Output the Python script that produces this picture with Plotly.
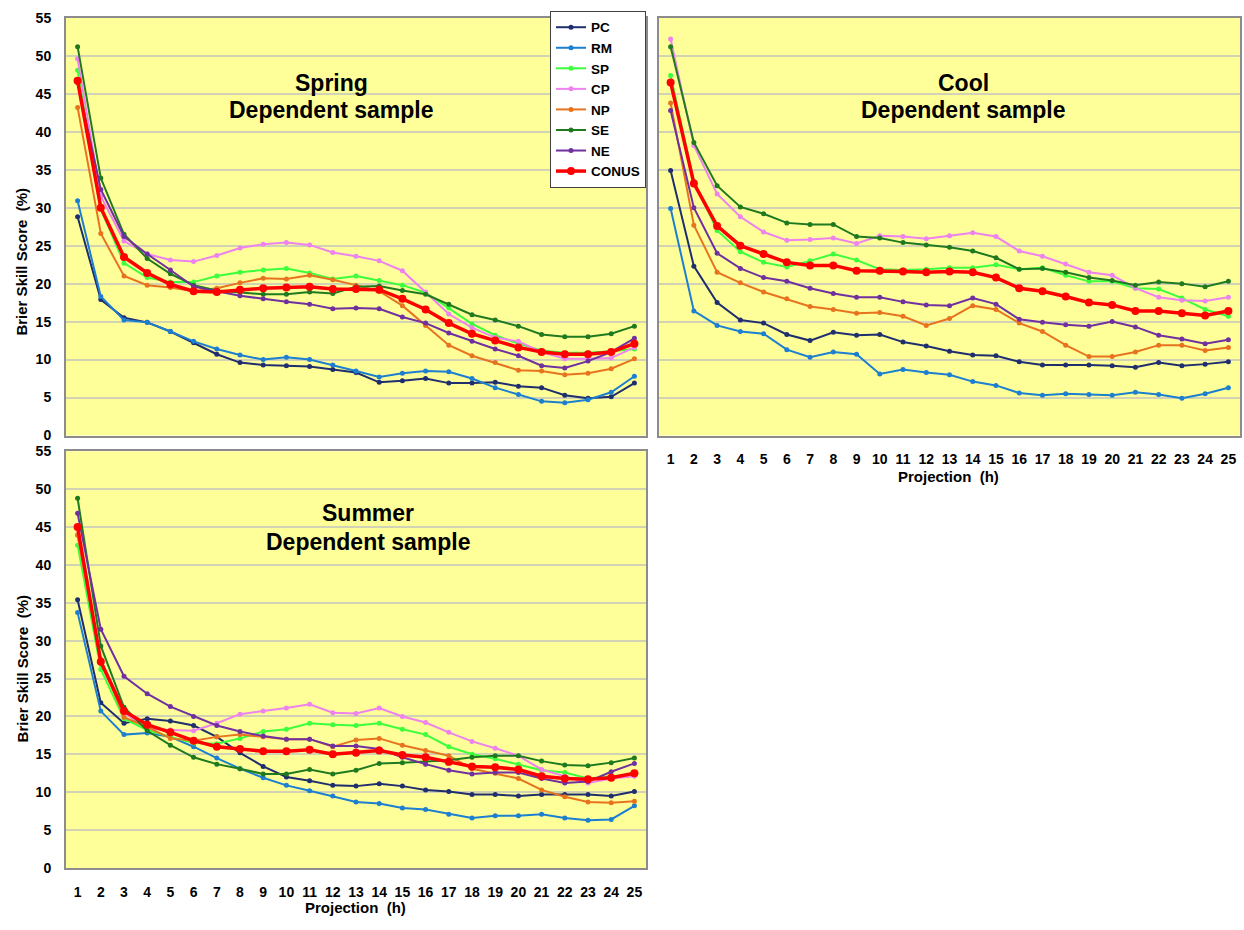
import plotly.graph_objects as go

W, H = 1244, 930
hours = list(range(1, 26))
series_names = ["PC", "RM", "SP", "CP", "NP", "SE", "NE", "CONUS"]
colors = {"PC": "#1F2E6E", "RM": "#1C7FD0", "SP": "#3CFF3C", "CP": "#EE82EE",
          "NP": "#E8731E", "SE": "#1F7A1F", "NE": "#7030A0", "CONUS": "#FF0000"}

spring = {
    "PC":    [28.8, 17.9, 15.5, 14.9, 13.7, 12.2, 10.7, 9.6, 9.3, 9.2, 9.1, 8.7, 8.3, 7.0, 7.2, 7.5, 6.9, 6.9, 7.0, 6.5, 6.3, 5.3, 4.9, 5.1, 6.9],
    "RM":    [30.9, 18.3, 15.2, 14.9, 13.7, 12.4, 11.4, 10.6, 10.0, 10.3, 10.0, 9.3, 8.5, 7.7, 8.2, 8.5, 8.4, 7.5, 6.3, 5.4, 4.5, 4.3, 4.7, 5.7, 7.8],
    "SP":    [48.1, 29.8, 22.7, 20.8, 20.2, 20.2, 21.0, 21.5, 21.8, 22.0, 21.4, 20.6, 21.0, 20.4, 19.8, 18.8, 16.8, 14.7, 13.2, 12.1, 11.2, 10.9, 10.9, 11.1, 11.4],
    "CP":    [49.6, 31.5, 25.6, 23.9, 23.1, 22.9, 23.7, 24.7, 25.2, 25.4, 25.1, 24.1, 23.6, 23.0, 21.7, 18.9, 16.0, 14.2, 12.9, 12.4, 11.0, 10.1, 10.1, 10.2, 11.6],
    "NP":    [43.2, 26.6, 21.0, 19.8, 19.5, 19.0, 19.4, 20.1, 20.7, 20.6, 21.1, 20.5, 19.8, 19.0, 17.1, 14.5, 11.9, 10.5, 9.6, 8.6, 8.5, 8.0, 8.2, 8.8, 10.1],
    "SE":    [51.2, 33.9, 26.5, 23.3, 21.3, 19.8, 19.1, 18.9, 18.6, 18.6, 18.9, 18.7, 19.6, 19.7, 19.1, 18.6, 17.3, 15.9, 15.2, 14.4, 13.3, 13.0, 13.0, 13.4, 14.4],
    "NE":    [46.5, 32.4, 26.2, 23.9, 21.8, 19.6, 19.0, 18.4, 18.0, 17.6, 17.3, 16.7, 16.8, 16.7, 15.6, 14.8, 13.5, 12.4, 11.4, 10.5, 9.2, 8.9, 9.8, 11.0, 12.8],
    "CONUS": [46.7, 30.0, 23.5, 21.4, 19.9, 19.0, 18.9, 19.2, 19.4, 19.5, 19.6, 19.3, 19.3, 19.2, 18.0, 16.6, 14.8, 13.4, 12.5, 11.6, 11.0, 10.7, 10.7, 11.0, 12.1],
}

cool = {
    "PC":    [34.9, 22.3, 17.5, 15.2, 14.8, 13.3, 12.5, 13.6, 13.2, 13.3, 12.3, 11.8, 11.1, 10.6, 10.5, 9.7, 9.3, 9.3, 9.3, 9.2, 9.0, 9.6, 9.2, 9.4, 9.7],
    "RM":    [29.9, 16.4, 14.5, 13.7, 13.4, 11.3, 10.3, 11.0, 10.7, 8.1, 8.7, 8.3, 8.0, 7.1, 6.6, 5.6, 5.3, 5.5, 5.4, 5.3, 5.7, 5.4, 4.9, 5.5, 6.3],
    "SP":    [47.4, 33.5, 27.0, 24.2, 22.8, 22.2, 23.0, 23.9, 23.1, 21.9, 21.8, 21.9, 22.1, 22.1, 22.5, 21.9, 22.1, 21.1, 20.3, 20.3, 19.4, 19.3, 18.1, 16.6, 15.7],
    "CP":    [52.2, 38.2, 31.8, 28.8, 26.8, 25.7, 25.8, 26.0, 25.3, 26.3, 26.2, 25.9, 26.3, 26.7, 26.2, 24.3, 23.6, 22.6, 21.5, 21.1, 19.4, 18.2, 17.8, 17.7, 18.2],
    "NP":    [43.8, 27.7, 21.5, 20.1, 18.9, 18.0, 17.0, 16.6, 16.1, 16.2, 15.7, 14.5, 15.4, 17.1, 16.6, 14.8, 13.7, 11.9, 10.4, 10.4, 11.0, 11.9, 11.9, 11.2, 11.6],
    "SE":    [51.2, 38.6, 32.9, 30.1, 29.2, 28.0, 27.8, 27.8, 26.2, 26.0, 25.4, 25.1, 24.8, 24.3, 23.4, 21.9, 22.0, 21.5, 20.8, 20.4, 19.8, 20.2, 20.0, 19.6, 20.3],
    "NE":    [42.8, 30.0, 24.0, 22.0, 20.8, 20.3, 19.4, 18.7, 18.2, 18.2, 17.6, 17.2, 17.1, 18.1, 17.3, 15.3, 14.9, 14.6, 14.4, 15.0, 14.3, 13.2, 12.7, 12.1, 12.6],
    "CONUS": [46.5, 33.2, 27.6, 25.0, 23.9, 22.8, 22.4, 22.4, 21.7, 21.7, 21.6, 21.5, 21.6, 21.5, 20.8, 19.4, 19.0, 18.3, 17.5, 17.2, 16.4, 16.4, 16.1, 15.8, 16.4],
}

summer = {
    "PC":    [35.4, 21.8, 19.1, 19.7, 19.4, 18.8, 17.3, 15.2, 13.4, 12.0, 11.5, 10.9, 10.8, 11.1, 10.8, 10.3, 10.1, 9.7, 9.7, 9.5, 9.7, 9.7, 9.7, 9.5, 10.1],
    "RM":    [33.7, 20.7, 17.6, 17.8, 17.3, 16.0, 14.5, 13.1, 11.9, 10.9, 10.2, 9.5, 8.7, 8.5, 7.9, 7.7, 7.1, 6.6, 6.9, 6.9, 7.1, 6.6, 6.3, 6.4, 8.2],
    "SP":    [42.6, 26.2, 19.7, 18.2, 17.3, 16.5, 16.4, 17.1, 18.0, 18.3, 19.1, 18.9, 18.8, 19.1, 18.3, 17.6, 16.0, 15.0, 14.4, 13.7, 12.9, 12.6, 11.8, 12.1, 12.3],
    "CP":    [44.0, 27.5, 20.5, 18.4, 18.2, 18.1, 19.1, 20.3, 20.7, 21.1, 21.6, 20.5, 20.4, 21.1, 20.0, 19.2, 17.9, 16.7, 15.8, 14.8, 13.0, 12.1, 11.2, 11.8, 12.1],
    "NP":    [43.9, 27.5, 19.9, 18.6, 17.1, 16.8, 17.3, 17.6, 17.3, 17.0, 17.0, 16.0, 16.9, 17.1, 16.2, 15.5, 14.8, 13.1, 12.5, 11.8, 10.3, 9.4, 8.7, 8.6, 8.8],
    "SE":    [48.8, 29.3, 21.2, 18.1, 16.2, 14.6, 13.7, 13.1, 12.4, 12.4, 13.0, 12.4, 12.9, 13.8, 13.9, 14.1, 14.2, 14.6, 14.8, 14.8, 14.1, 13.6, 13.5, 13.9, 14.5],
    "NE":    [46.8, 31.5, 25.3, 23.0, 21.3, 20.0, 18.8, 18.0, 17.4, 17.0, 17.0, 16.1, 16.1, 15.7, 14.6, 13.7, 12.9, 12.4, 12.6, 12.6, 11.8, 11.2, 11.4, 12.7, 13.8],
    "CONUS": [45.0, 27.2, 20.7, 18.9, 17.9, 16.8, 16.0, 15.7, 15.4, 15.4, 15.6, 15.0, 15.2, 15.5, 14.9, 14.6, 14.0, 13.4, 13.3, 13.0, 12.1, 11.8, 11.7, 11.9, 12.5],
}

FONT = "Liberation Sans, Arial, sans-serif"

def px_x(p):
    return p / W

def px_y(p):
    return 1 - p / H

panels = [
    # (data, xaxis id, yaxis id, x-domain px, y-domain px (top,bottom), show x labels, show y labels)
    (spring, "x", "y", (66, 646), (10, 435), False, True),
    (cool, "x2", "y2", (659, 1240), (10, 435), True, False),
    (summer, "x3", "y3", (66, 646), (451, 875), True, True),
]

fig = go.Figure()
for pi, (data, xa, ya, _, _, _, _) in enumerate(panels):
    for name in series_names:
        big = name == "CONUS"
        fig.add_trace(go.Scatter(
            x=hours, y=data[name], name=name, mode="lines+markers",
            xaxis=xa, yaxis=ya, legendgroup=name, showlegend=(pi == 0),
            line=dict(color=colors[name], width=3.5 if big else 2),
            marker=dict(color=colors[name], size=8 if big else 5),
        ))

layout = dict(
    width=W, height=H, margin=dict(l=0, r=0, t=0, b=0),
    paper_bgcolor="white", plot_bgcolor="#FFFF99",
    font=dict(family=FONT, size=14, color="black"),
    showlegend=True,
    legend=dict(x=px_x(646), xanchor="right", y=px_y(3), yanchor="top",
                bgcolor="white", bordercolor="#404040", borderwidth=1,
                font=dict(family=FONT, size=13.5, color="black", weight="bold"),
                itemwidth=30, tracegroupgap=0),
)

for pi, (data, xa, ya, xd, yd, showx, showy) in enumerate(panels):
    xk = "xaxis" + xa[1:]
    yk = "yaxis" + ya[1:]
    layout[xk] = dict(
        domain=[px_x(xd[0]), px_x(xd[1])], anchor=ya, range=[0.5, 25.5],
        tickmode="array", tickvals=hours, ticktext=[str(h) for h in hours],
        showticklabels=showx, showgrid=False, zeroline=False,
        ticks="outside", ticklen=10, tickcolor="rgba(0,0,0,0)",
        tickfont=dict(family=FONT, size=14, color="black", weight="bold"),
        showline=True, linecolor="#8C8C8C", linewidth=2, mirror=True,
    )
    layout[yk] = dict(
        domain=[px_y(yd[1]), px_y(yd[0])], anchor=xa, range=[0, 55],
        tickmode="linear", tick0=0, dtick=5,
        showticklabels=showy, showgrid=True, gridcolor="#D2D2B4", gridwidth=1.5,
        zeroline=False, ticks="outside", ticklen=10, tickcolor="rgba(0,0,0,0)",
        tickfont=dict(family=FONT, size=14, color="black", weight="bold"),
        showline=True, linecolor="#8C8C8C", linewidth=2, mirror=True,
    )

fig.update_layout(**layout)

def note(text, xpx, ypx, size, angle=0):
    fig.add_annotation(text=text, x=px_x(xpx), y=px_y(ypx), xref="paper", yref="paper",
                       xanchor="center", yanchor="middle", showarrow=False, textangle=angle,
                       font=dict(family=FONT, size=size, color="black", weight="bold"))

# Panel titles
note("Spring", 331, 76, 23)
note("Dependent sample", 331, 104, 23)
note("Cool", 963, 76, 23)
note("Dependent sample", 963, 104, 23)
note("Summer", 368, 514, 23)
note("Dependent sample", 368, 543, 23)

# Axis titles
note("Brier Skill Score\u00a0 (%)", 22, 258, 15, angle=-90)
note("Brier Skill Score\u00a0 (%)", 22, 672, 15, angle=-90)
note("Projection\u00a0 (h)", 948, 477, 15)
note("Projection\u00a0 (h)", 355, 915, 15)

fig.write_html("out.html")
